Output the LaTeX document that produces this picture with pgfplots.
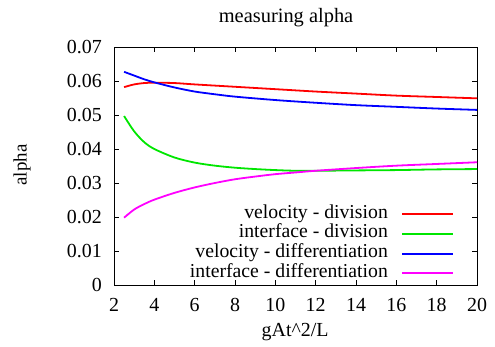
\documentclass[border=0pt]{standalone}
\usepackage{fontspec}
\setmainfont{Liberation Serif}
\usepackage{pgfplots}
\pgfplotsset{compat=1.18}
\definecolor{gpred}{RGB}{255,0,0}
\definecolor{gpgreen}{RGB}{0,230,0}
\definecolor{gpblue}{RGB}{0,0,255}
\definecolor{gpmag}{RGB}{255,0,255}
\begin{document}
\begin{tikzpicture}
\path[use as bounding box] (0,0) rectangle (495bp,347bp);
\begin{axis}[
  at={(114bp,62bp)}, anchor=south west,
  scale only axis, width=363bp, height=238bp,
  xmin=2, xmax=20, ymin=0, ymax=0.07,
  xtick={2,4,...,20},
  ytick={0,0.01,0.02,0.03,0.04,0.05,0.06,0.07},
  yticklabels={0,0.01,0.02,0.03,0.04,0.05,0.06,0.07},
  scaled y ticks=false,
  tick align=inside, tick pos=both,
  major tick length=5bp,
  axis line style={line width=0.8bp},
  every tick/.style={black, line width=0.8bp},
  /pgf/number format/assume math mode=true,
  tick label style={font=\fontsize{20}{24}\selectfont},
  yticklabel style={inner sep=0pt, anchor=east, xshift=-12bp},
  xticklabel style={inner sep=0pt, anchor=north, yshift=-13bp},
  title={measuring alpha},
  title style={font=\fontsize{20.5}{24}\selectfont, at={(rel axis cs:0.474,1.097)}, anchor=center, inner sep=0pt},
  xlabel={gAt\textasciicircum 2/L},
  xlabel style={font=\fontsize{20}{24}\selectfont, at={(rel axis cs:0.499,-0.197)}, anchor=center, inner sep=0pt},
  ylabel={alpha},
  ylabel style={font=\fontsize{19}{22}\selectfont, at={(rel axis cs:-0.253,0.504)}, anchor=center, inner sep=0pt},
  legend plot pos=right,
  legend cell align=right,
  legend image code/.code={\fill[#1, draw=none] (0bp,-1bp) rectangle (51bp,1bp);},
  legend style={draw=none, fill=none, inner sep=0pt,
    at={(rel axis cs:0.934,0.340)}, anchor=north east,
    font=\fontsize{19.8}{22}\selectfont,
    nodes={inner sep=0pt, text height=14bp, text depth=5.7bp},
    column sep=14bp, row sep=0pt},
]
\addplot[gpred, line width=1.8bp, smooth] coordinates {(2.5,0.0582) (3,0.0590) (3.5,0.0594) (4,0.0595) (5,0.0594) (6,0.0590) (8,0.0583) (10,0.0576) (12,0.0569) (14,0.0563) (16,0.0557) (18,0.0553) (20,0.0549)};
\addlegendentry{velocity - division}
\addplot[gpgreen, line width=1.8bp, smooth] coordinates {(2.5,0.0497) (3,0.0452) (3.5,0.0420) (4,0.0400) (5,0.0375) (6,0.0360) (7,0.0351) (8,0.0345) (9,0.0341) (10,0.0338) (11,0.0336) (12,0.0336) (14,0.0337) (16,0.0338) (18,0.0340) (20,0.0341)};
\addlegendentry{interface - division}
\addplot[gpblue, line width=1.8bp, smooth] coordinates {(2.5,0.0627) (3,0.0616) (3.5,0.0605) (4,0.0596) (5,0.0581) (6,0.0569) (7,0.0561) (8,0.0554) (10,0.0544) (12,0.0536) (14,0.0529) (16,0.0524) (18,0.0519) (20,0.0515)};
\addlegendentry{velocity - differentiation}
\addplot[gpmag, line width=1.8bp, smooth] coordinates {(2.5,0.0198) (3,0.0222) (3.5,0.0238) (4,0.0251) (5,0.0271) (6,0.0287) (7,0.0300) (8,0.0311) (9,0.0319) (10,0.0326) (11,0.0331) (12,0.0336) (14,0.0344) (16,0.0351) (18,0.0356) (20,0.0361)};
\addlegendentry{interface - differentiation}
\end{axis}
\end{tikzpicture}
\end{document}
